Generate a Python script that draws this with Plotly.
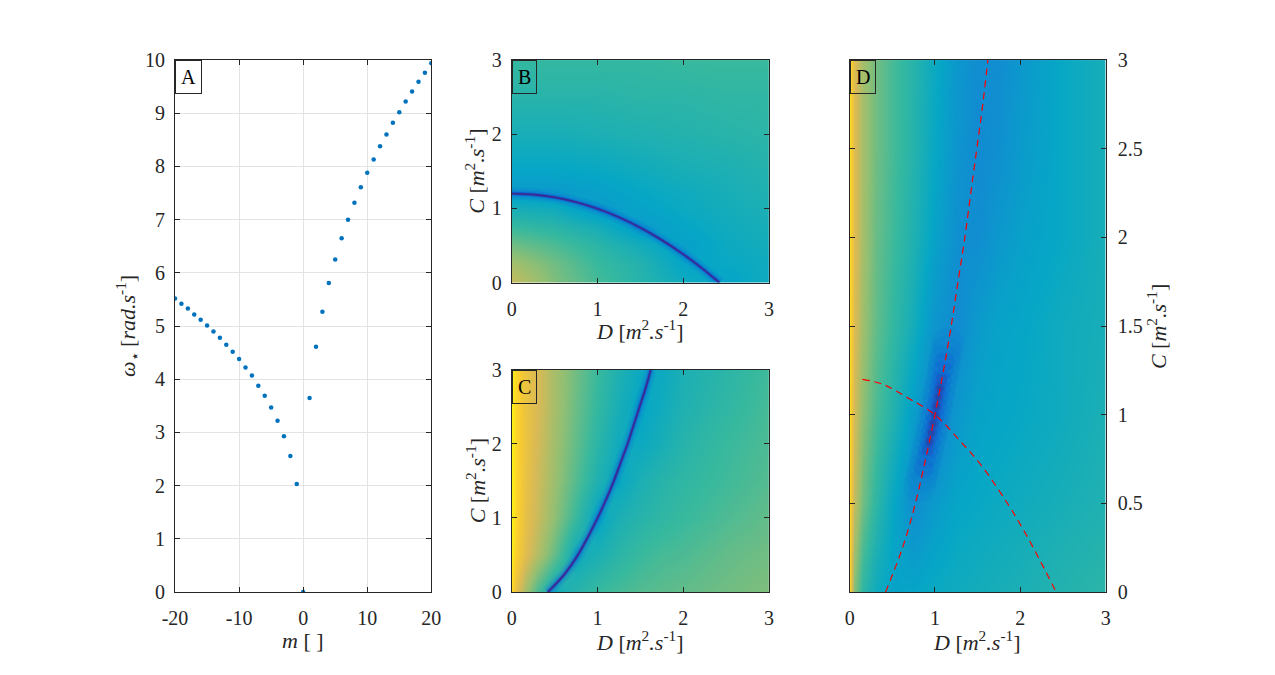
import plotly.graph_objects as go

# ---------------- data ----------------
m_vals = list(range(-20, 21))
omega_star = [5.52, 5.42, 5.33, 5.22, 5.12, 5.01, 4.90, 4.78, 4.65, 4.52,
              4.38, 4.22, 4.07, 3.88, 3.69, 3.47, 3.22, 2.93, 2.56, 2.03,
              0.0,
              3.65, 4.61, 5.27, 5.81, 6.25, 6.65, 7.00, 7.32, 7.61, 7.88,
              8.13, 8.38, 8.60, 8.82, 9.02, 9.22, 9.41, 9.59, 9.76, 9.94]

# panel B coarse field (parula fraction), rows = C, cols = D
B_D = [0, 0.5, 1, 1.5, 2, 2.5, 3]
B_C = [0, 0.25, 0.5, 0.75, 1, 1.25, 1.5, 2, 2.5, 3]
B_z = [
    [0.72, 0.60, 0.52, 0.46, 0.40, 0.36, 0.40],
    [0.66, 0.58, 0.50, 0.45, 0.37, 0.38, 0.40],
    [0.58, 0.53, 0.47, 0.41, 0.35, 0.39, 0.41],
    [0.50, 0.47, 0.42, 0.33, 0.37, 0.40, 0.42],
    [0.42, 0.40, 0.33, 0.36, 0.39, 0.41, 0.43],
    [0.33, 0.33, 0.35, 0.38, 0.40, 0.42, 0.44],
    [0.37, 0.37, 0.38, 0.40, 0.42, 0.43, 0.45],
    [0.42, 0.42, 0.43, 0.44, 0.45, 0.46, 0.47],
    [0.46, 0.46, 0.46, 0.47, 0.47, 0.48, 0.48],
    [0.49, 0.49, 0.49, 0.49, 0.50, 0.50, 0.50],
]

# panels C and D coarse fields
G_D = [0, 0.05, 0.15, 0.3, 0.5, 0.75, 1.0, 1.25, 1.5, 1.75, 2.0, 2.5, 3.0]
G_C = [0, 0.5, 1, 1.5, 2, 2.5, 3]
C_z = [
    [0.90, 0.80, 0.66, 0.52, 0.40, 0.46, 0.50, 0.52, 0.54, 0.55, 0.56, 0.58, 0.60],
    [0.96, 0.88, 0.78, 0.68, 0.56, 0.40, 0.43, 0.47, 0.50, 0.52, 0.53, 0.56, 0.58],
    [0.97, 0.90, 0.80, 0.72, 0.62, 0.50, 0.37, 0.43, 0.46, 0.48, 0.50, 0.53, 0.56],
    [0.97, 0.90, 0.81, 0.73, 0.64, 0.54, 0.44, 0.38, 0.43, 0.46, 0.48, 0.51, 0.54],
    [0.97, 0.90, 0.82, 0.74, 0.65, 0.56, 0.47, 0.40, 0.39, 0.42, 0.46, 0.50, 0.53],
    [0.97, 0.90, 0.82, 0.75, 0.66, 0.57, 0.49, 0.42, 0.37, 0.40, 0.44, 0.48, 0.52],
    [0.97, 0.90, 0.82, 0.75, 0.66, 0.58, 0.50, 0.44, 0.39, 0.39, 0.43, 0.47, 0.51],
]
D_z = [
    [0.90, 0.62, 0.48, 0.40, 0.36, 0.37, 0.39, 0.40, 0.41, 0.42, 0.43, 0.45, 0.47],
    [0.91, 0.72, 0.58, 0.48, 0.38, 0.28, 0.33, 0.37, 0.38, 0.39, 0.40, 0.42, 0.44],
    [0.92, 0.75, 0.62, 0.53, 0.45, 0.34, 0.24, 0.32, 0.36, 0.37, 0.38, 0.40, 0.43],
    [0.92, 0.77, 0.65, 0.56, 0.49, 0.41, 0.31, 0.27, 0.33, 0.36, 0.37, 0.40, 0.42],
    [0.92, 0.78, 0.66, 0.57, 0.51, 0.44, 0.36, 0.29, 0.28, 0.32, 0.35, 0.38, 0.42],
    [0.92, 0.78, 0.66, 0.58, 0.52, 0.455, 0.38, 0.31, 0.27, 0.29, 0.33, 0.38, 0.42],
    [0.92, 0.78, 0.66, 0.58, 0.52, 0.46, 0.39, 0.32, 0.28, 0.28, 0.32, 0.38, 0.42],
]

# zero curves
curve1_D = [0.0, 0.25, 0.5, 0.75, 1.0, 1.25, 1.5, 1.75, 2.0, 2.2, 2.42]
curve1_C = [1.2, 1.187, 1.149, 1.085, 0.995, 0.88, 0.739, 0.572, 0.38, 0.208, 0.0]
curve2_D = [0.42, 0.62, 0.77, 0.89, 1.0, 1.10, 1.19, 1.27, 1.35, 1.42, 1.49, 1.56, 1.62]
curve2_C = [0.0, 0.25, 0.5, 0.75, 1.0, 1.25, 1.5, 1.75, 2.0, 2.25, 2.5, 2.75, 3.0]
# red dashed curve 1 in panel D starts a little right of D=0
red1_D = [0.15, 0.4, 0.7, 1.0, 1.28, 1.55, 1.85, 2.05, 2.24, 2.42]
red1_C = [1.2, 1.17, 1.09, 1.0, 0.86, 0.71, 0.5, 0.34, 0.17, 0.0]
# dark patch in panel D (centre line)
blob_D = [0.822, 0.846, 0.870, 0.892, 0.914, 0.936, 0.957, 0.978, 1.0,
          1.02, 1.04, 1.058, 1.077, 1.096, 1.115, 1.133, 1.152]
blob_C = [0.60, 0.65, 0.70, 0.75, 0.80, 0.85, 0.90, 0.95, 1.0,
          1.05, 1.10, 1.15, 1.20, 1.25, 1.30, 1.35, 1.40]

parula = [[0.0, '#352a87'], [0.125, '#0363e1'], [0.25, '#1485d4'],
          [0.375, '#06a7c6'], [0.5, '#38b99e'], [0.625, '#92bf73'],
          [0.75, '#d9ba56'], [0.875, '#fcce2e'], [1.0, '#f9fb0e']]

FONT = "Liberation Serif, Times New Roman, serif"
AX = '#262626'

W, H = 1275, 675


def fx(px):
    return px / W


def fy(py):
    return 1 - py / H


fig = go.Figure()

fig.add_trace(go.Scatter(x=m_vals, y=omega_star, mode='markers',
                         marker=dict(color='#0072BD', size=4.5),
                         xaxis='x', yaxis='y', showlegend=False))


def heat(xv, yv, z, ax):
    fig.add_trace(go.Heatmap(x=xv, y=yv, z=z, colorscale=parula, zmin=0, zmax=1,
                             zsmooth='best', showscale=False, hoverinfo='skip',
                             xaxis='x' + ax, yaxis='y' + ax))


def halo(xv, yv, ax, widths):
    for w, col in widths:
        fig.add_trace(go.Scatter(x=xv, y=yv, mode='lines', line=dict(color=col, width=w, shape='spline'),
                                 xaxis='x' + ax, yaxis='y' + ax, showlegend=False, hoverinfo='skip'))


line_halo = [(12, 'rgba(15,92,221,0.13)'), (7, 'rgba(15,92,221,0.25)'),
             (3.5, 'rgba(20,60,210,0.5)'), (1.8, '#3b2a8f')]

heat(B_D, B_C, B_z, '2')
halo(curve1_D, curve1_C, '2', line_halo)
heat(G_D, G_C, C_z, '3')
halo(curve2_D, curve2_C, '3', line_halo)
heat(G_D, G_C, D_z, '4')

# soft dark patch: overlapping translucent markers along the centre line
blob_layers = [(slice(0, 17), 32, 'rgba(15,92,221,0.08)'),
               (slice(2, 15), 20, 'rgba(20,70,215,0.13)'),
               (slice(4, 13), 12, 'rgba(45,45,170,0.22)'),
               (slice(5, 12), 7, 'rgba(53,42,135,0.40)')]
for sl, sz, col in blob_layers:
    fig.add_trace(go.Scatter(x=blob_D[sl], y=blob_C[sl], mode='markers',
                             marker=dict(size=sz, color=col, line=dict(width=0)),
                             xaxis='x4', yaxis='y4', showlegend=False, hoverinfo='skip'))

for xs, ys in [(red1_D, red1_C), (curve2_D, curve2_C)]:
    fig.add_trace(go.Scatter(x=xs, y=ys, mode='lines',
                             line=dict(color='#ff0000', width=1.2, dash='7px,5px', shape='spline'),
                             xaxis='x4', yaxis='y4', showlegend=False))

tickfont = dict(family=FONT, size=20, color=AX)
titlefont = dict(family=FONT, size=22, color=AX)


def axis(domain, rng, tv, tt, anchor, side=None, grid=False, lstand=0):
    d = dict(domain=domain, range=rng, tickvals=tv, ticktext=tt, anchor=anchor,
             showline=True, linecolor=AX, linewidth=1, mirror='ticks', ticks='inside',
             ticklen=5, tickcolor=AX, tickfont=tickfont, zeroline=False,
             showgrid=grid, gridcolor='#e3e3e3', gridwidth=1, fixedrange=True,
             ticklabelstandoff=lstand)
    if side:
        d['side'] = side
    return d


unitsC = "<i>C</i> [<i>m</i><sup>2</sup><i>.s</i><sup>-1</sup>]"
unitsD = "<i>D</i> [<i>m</i><sup>2</sup><i>.s</i><sup>-1</sup>]"
t3 = [0, 1, 2, 3]
t3t = ['0', '1', '2', '3']

xa_dom = [fx(165), fx(426)]
xb_dom = [fx(508), fx(770)]
xd_dom = [fx(852), fx(1112.7)]
y_full = [fy(600.7), fy(50.7)]
y_top = [fy(280.7), fy(50.7)]
y_bot = [fy(600.7), fy(370.7)]

XS, YS = 8, 5

fig.update_layout(
    width=W, height=H, autosize=False, margin=dict(l=0, r=0, t=0, b=0, pad=0),
    paper_bgcolor='white', plot_bgcolor='white', showlegend=False,
    xaxis=axis(xa_dom, [-20, 20], [-20, -10, 0, 10, 20], ['-20', '-10', '0', '10', '20'], 'y',
               grid=True, lstand=XS),
    yaxis=axis(y_full, [0, 10], list(range(11)), [str(i) for i in range(11)], 'x',
               grid=True, lstand=YS),
    xaxis2=axis(xb_dom, [0, 3], t3, t3t, 'y2', lstand=XS),
    yaxis2=axis(y_top, [0, 3], t3, t3t, 'x2', lstand=YS),
    xaxis3=axis(xb_dom, [0, 3], t3, t3t, 'y3', lstand=XS),
    yaxis3=axis(y_bot, [0, 3], t3, t3t, 'x3', lstand=YS),
    xaxis4=axis(xd_dom, [0, 3], t3, t3t, 'y4', lstand=XS),
    yaxis4=axis(y_full, [0, 3], [0, 0.5, 1, 1.5, 2, 2.5, 3], ['0', '0.5', '1', '1.5', '2', '2.5', '3'],
                'x4', side='right', lstand=7),
)

# axis titles placed as annotations (pixel centres)
titles = [
    ("<i>m</i> [ ]", 295.5, 651, 0),
    ("<i>ω</i><sub>⋆</sub> [<i>rad.s</i><sup>-1</sup>]", 116, 325.7, -90),
    (unitsD, 639, 330, 0),
    (unitsC, 471, 165.7, -90),
    (unitsD, 639, 651, 0),
    (unitsC, 471, 485.7, -90),
    (unitsD, 982, 651, 0),
    (unitsC, 1165, 325.7, -90),
]
for txt, px, py, ang in titles:
    fig.add_annotation(text=txt, xref='paper', yref='paper', x=fx(px), y=fy(py),
                       xanchor='center', yanchor='middle', showarrow=False,
                       textangle=ang, font=titlefont)

for lab, ax, bg in [('A', '', 'white'), ('B', '2', 'rgba(0,0,0,0)'),
                    ('C', '3', 'rgba(0,0,0,0)'), ('D', '4', 'rgba(0,0,0,0)')]:
    fig.add_annotation(text=lab, xref=('x' + ax + ' domain'), yref=('y' + ax + ' domain'),
                       x=0, y=1, xanchor='left', yanchor='top', showarrow=False,
                       font=dict(family=FONT, size=20, color='black'),
                       bgcolor=bg, bordercolor='#262626', borderwidth=1, borderpad=5)

fig.write_html("out.html")
